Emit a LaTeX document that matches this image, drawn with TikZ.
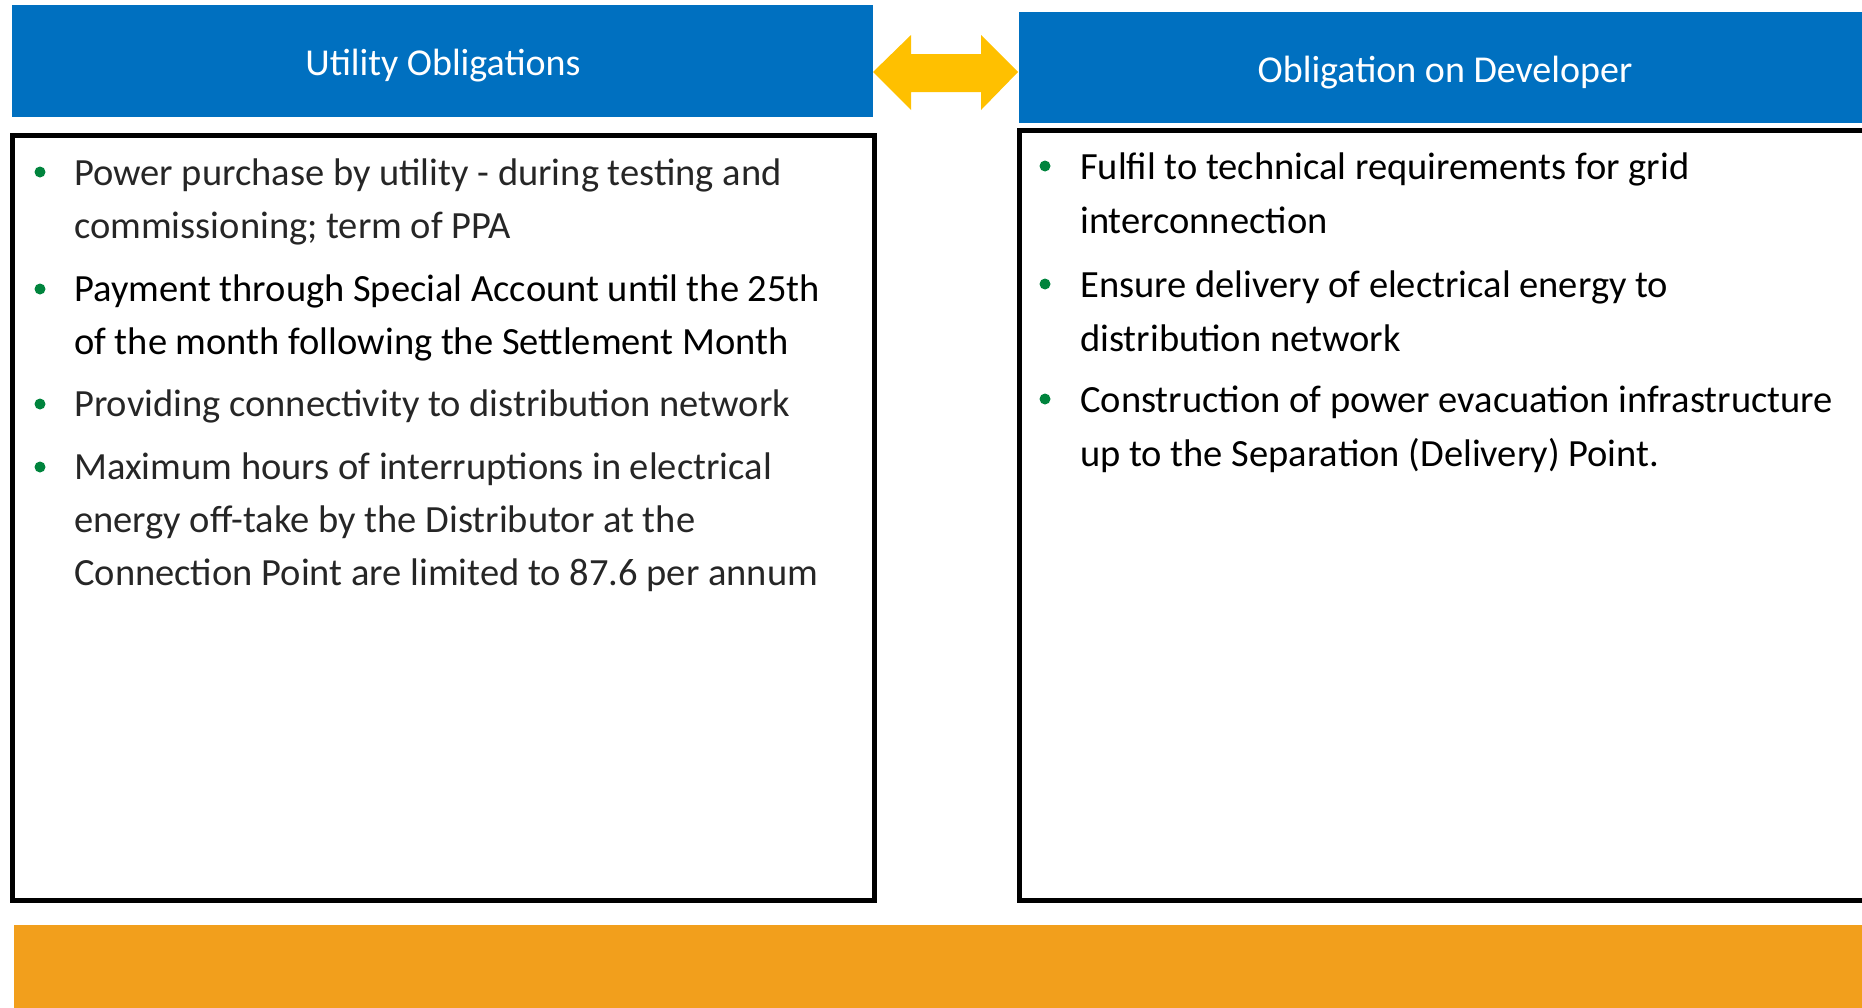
\documentclass[tikz,border=0pt]{standalone}
\usepackage{fontspec}
\setmainfont{Carlito}
\definecolor{hdrblue}{HTML}{0070C0}
\definecolor{arrowyellow}{HTML}{FFC000}
\definecolor{barorange}{HTML}{F29F1C}
\definecolor{bulletgreen}{HTML}{00843D}
\definecolor{lighttext}{HTML}{262626}
\newcommand{\itemlines}[1]{\parbox[t]{820pt}{\raggedright #1}}
\tikzset{
  header/.style={fill=hdrblue, anchor=north west, inner sep=0pt},
  headertext/.style={text=white, inner sep=0pt, font=\fontsize{38}{44}\selectfont},
  frame/.style={draw=black, line width=5pt},
  itemtext/.style={anchor=base west, inner sep=0pt,
    font=\fontsize{38.5}{53}\selectfont},
  rightitem/.style={anchor=base west, inner sep=0pt, text=black,
    font=\fontsize{38.5}{54}\selectfont},
  lightitem/.style={itemtext, text=lighttext},
  darkitem/.style={itemtext, text=black},
  bulletdot/.style={circle, fill=bulletgreen, inner sep=0pt, minimum size=11pt}
}
\begin{document}
\begin{tikzpicture}[x=1pt, y=-1pt]
\useasboundingbox (0,0) rectangle (1862,1007);
\clip (0,0) rectangle (1862,1007);
% headers
\node[header, minimum width=861pt, minimum height=112pt] (hleft) at (12,5) {};
\node[headertext] (hlefttext) at (443,65.5) {Utility Obligations};
\node[header, minimum width=870pt, minimum height=111pt] (hright) at (1019,12) {};
\node[headertext] (hrighttext) at (1445,72.5) {Obligation on Developer};
% double arrow
\fill[arrowyellow] (873,72) -- (911,35) -- (911,54) -- (981,54) -- (981,35) -- (1018,72)
  -- (981,110) -- (981,92) -- (911,92) -- (911,110) -- cycle;
% frames
\draw[frame] (12.5,135) rectangle (874,900);
\draw[frame] (1019.5,130.5) rectangle (1880,900);
% orange bar
\fill[barorange] (14,925) rectangle (1880,1020);
% left items
\node[bulletdot] (lb1) at (40,172) {};
\node[lightitem] (li1) at (74,185.5) {\itemlines{Power purchase by utility - during testing and\\commissioning; term of PPA}};
\node[bulletdot] (lb2) at (40,289) {};
\node[darkitem] (li2) at (74,301.5) {\itemlines{Payment through Special Account until the 25th\\of the month following the Settlement Month}};
\node[bulletdot] (lb3) at (40,404) {};
\node[lightitem] (li3) at (74,416.5) {\itemlines{Providing connectivity to distribution network}};
\node[bulletdot] (lb4) at (40,467) {};
\node[lightitem] (li4) at (74,479.5) {\itemlines{Maximum hours of interruptions in electrical\\energy off-take by the Distributor at the\\Connection Point are limited to 87.6 per annum}};
% right items
\node[bulletdot] (rb1) at (1045,166) {};
\node[rightitem] (ri1) at (1080,179.5) {\itemlines{Fulfil to technical requirements for grid\\interconnection}};
\node[bulletdot] (rb2) at (1045,284) {};
\node[rightitem] (ri2) at (1080,297) {\itemlines{Ensure delivery of electrical energy to\\distribution network}};
\node[bulletdot] (rb3) at (1045,399) {};
\node[rightitem] (ri3) at (1080,412) {\itemlines{Construction of power evacuation infrastructure\\up to the Separation (Delivery) Point.}};
\end{tikzpicture}
\end{document}
